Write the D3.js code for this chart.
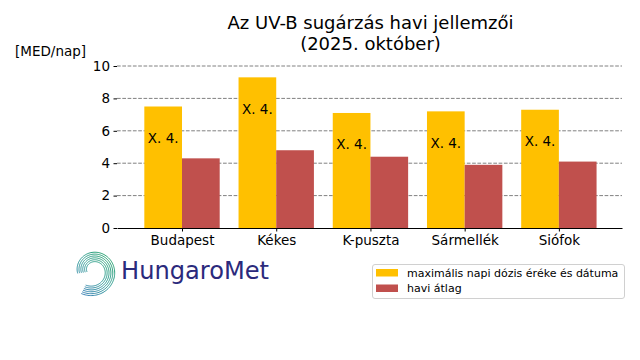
<!DOCTYPE html>
<html><head><meta charset="utf-8">
<script src="https://cdn.jsdelivr.net/npm/d3@7"></script>
<style>body{margin:0;background:#fff}svg{display:block}text{font-family:"DejaVu Sans",sans-serif}</style>
</head><body>
<script>
const categories = ["Budapest","Kékes","K-puszta","Sármellék","Siófok"];
const maxValues = [7.5, 9.3, 7.1, 7.2, 7.3];
const maxDates = ["X. 4.","X. 4.","X. 4.","X. 4.","X. 4."];
const avgValues = [4.3, 4.8, 4.4, 3.9, 4.1];
const yTicks = [0,2,4,6,8,10];
const seriesNames = ["maximális napi dózis éréke és dátuma","havi átlag"];
const colors = ["#ffc000","#c0504d"];

const W=640,H=360;
const svg=d3.select("body").append("svg").attr("width",W).attr("height",H);
const x=d3.scaleLinear().domain([-0.69,4.67]).range([117,622]);
const y=d3.scaleLinear().domain([0,10]).range([228,66]);
const bw=0.4;

// grid
svg.append("g").selectAll("line").data(yTicks.filter(d=>d>0)).join("line")
 .attr("x1",117).attr("x2",622).attr("y1",d=>y(d)).attr("y2",d=>y(d))
 .attr("stroke","#808080").attr("stroke-width",1).attr("stroke-dasharray","3.7,1.6");

// bars
const g=svg.append("g");
g.selectAll("rect.max").data(maxValues).join("rect").attr("class","max")
 .attr("x",(d,i)=>x(i-bw)).attr("width",(d,i)=>x(i)-x(i-bw))
 .attr("y",d=>y(d)).attr("height",d=>y(0)-y(d)).attr("fill",colors[0]);
g.selectAll("rect.avg").data(avgValues).join("rect").attr("class","avg")
 .attr("x",(d,i)=>x(i)).attr("width",(d,i)=>x(i+bw)-x(i))
 .attr("y",d=>y(d)).attr("height",d=>y(0)-y(d)).attr("fill",colors[1]);
g.selectAll("text.lbl").data(maxValues).join("text").attr("class","lbl")
 .attr("x",(d,i)=>x(i-bw/2)).attr("y",d=>y(d-1.95)).attr("dy","0.35em")
 .attr("text-anchor","middle").attr("font-size",13.5).attr("fill","#000")
 .text((d,i)=>maxDates[i]);

// axes
const yAxis=d3.axisLeft(y).tickValues(yTicks).tickSize(3.5).tickPadding(3.5);
const ya=svg.append("g").attr("transform","translate(117,0)").call(yAxis);
ya.select(".domain").remove();
ya.selectAll("text").attr("font-size",13.5).attr("font-family","DejaVu Sans").attr("fill","#000");
const xAxis=d3.axisBottom(x).tickValues(d3.range(categories.length)).tickFormat(i=>categories[i]).tickSize(3.5).tickPadding(3.5).tickSizeOuter(0);
const xa=svg.append("g").attr("transform","translate(0,228)").call(xAxis);
xa.select(".domain").attr("stroke","#000").attr("stroke-width",1.2);
xa.selectAll("text").attr("font-size",13.5).attr("font-family","DejaVu Sans").attr("fill","#000");

// titles
svg.append("text").attr("x",370.5).attr("y",29).attr("text-anchor","middle").attr("font-size",18).text("Az UV-B sugárzás havi jellemzői");
svg.append("text").attr("x",370.5).attr("y",50).attr("text-anchor","middle").attr("font-size",18).text("(2025. október)");
svg.append("text").attr("x",15).attr("y",56).attr("font-size",13.5).text("[MED/nap]");

// legend
const lg=svg.append("g");
lg.append("rect").attr("x",372.5).attr("y",264.5).attr("width",252).attr("height",34).attr("rx",2.5)
 .attr("fill","#fff").attr("stroke","#d0d0d0");
seriesNames.forEach((n,i)=>{
  lg.append("rect").attr("x",376).attr("y",269+i*15.5).attr("width",22).attr("height",7.5).attr("fill",colors[i]);
  lg.append("text").attr("x",407).attr("y",273+i*15.5).attr("dy","0.35em").attr("font-size",11).text(n);
});

// logo
const defs=svg.append("defs");
const gr=defs.append("linearGradient").attr("id","lg1").attr("gradientUnits","userSpaceOnUse")
 .attr("x1",114).attr("y1",250).attr("x2",74).attr("y2",294);
gr.append("stop").attr("offset",0).attr("stop-color","#0f9a50");
gr.append("stop").attr("offset",0.5).attr("stop-color","#168f88");
gr.append("stop").attr("offset",1).attr("stop-color","#2a6db5");
const cx=93,cy=271;
for(let k=0;k<6;k++){
  const pts=[];
  for(let t=0;t<=1;t+=0.01){
    const ang=0.95*Math.PI+ t*1.72*Math.PI;
    const r=6+k*1.9+t*10;
    pts.push([cx+r*Math.cos(ang), cy+r*Math.sin(ang)]);
  }
  svg.append("path").attr("d",d3.line()(pts)).attr("fill","none").attr("stroke","url(#lg1)").attr("stroke-width",0.9);
}
svg.append("text").attr("x",121).attr("y",279).attr("font-family","Lato").attr("font-weight",400).attr("font-size",25)
 .attr("textLength",148).attr("lengthAdjust","spacingAndGlyphs").attr("fill","#2b2a7c").text("HungaroMet");
</script>
</body></html>
